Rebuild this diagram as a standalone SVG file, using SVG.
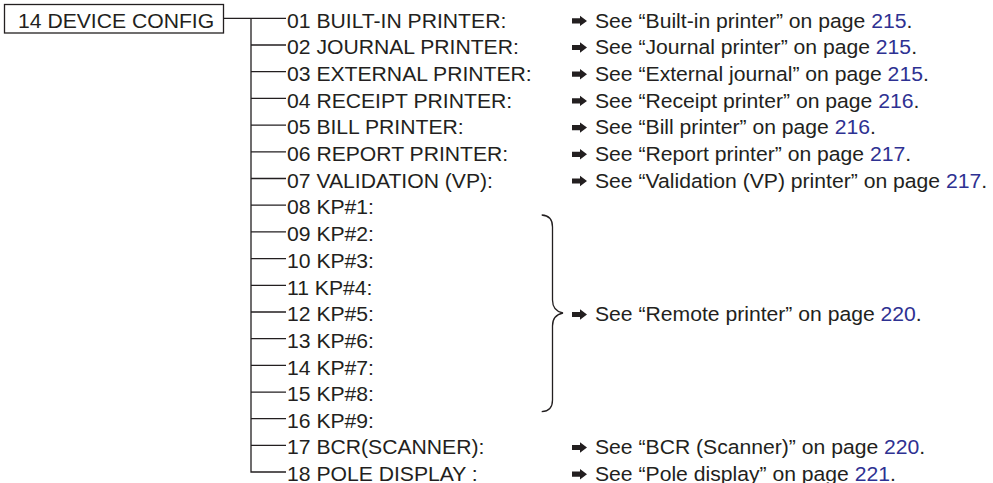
<svg xmlns="http://www.w3.org/2000/svg" width="993" height="483" viewBox="0 0 993 483">
<style>
text{font-family:"Liberation Sans",Arial,sans-serif;font-size:19.5px;fill:#231f20}
.pg{fill:#2e3192}
.ln{stroke:#231f20;stroke-width:1.3;fill:none}
.ar{fill:#231f20}
</style>
<defs>
<path id="arr" class="ar" d="M0,-2.6 H8 V-5.2 L15,0 L8,5.2 V2.6 H0 Z"/>
</defs>
<rect width="993" height="483" fill="#fff"/>
<g id="root">
<rect x="4.5" y="4.5" width="219" height="28.5" class="ln"/>
<text transform="translate(18,0) scale(1.085,1)" y="27.7">14 DEVICE CONFIG</text>
</g>
<g id="connectors">
<path class="ln" d="M223.5,18.3 H251 M251,18.3 V472 H286"/>
<path class="ln" d="M251,18.3 H286 M251,45 H286 M251,71.7 H286 M251,98.4 H286 M251,125.1 H286 M251,151.8 H286 M251,178.5 H286 M251,205.2 H286 M251,231.9 H286 M251,258.6 H286 M251,285.3 H286 M251,312 H286 M251,338.7 H286 M251,365.4 H286 M251,392.1 H286 M251,418.6 H286 M251,445.3 H286"/>
<path id="brace" class="ln" d="M541.7,215 Q552.5,215.5 552.5,227 V300 Q552.5,311 563,313 Q552.5,315 552.5,326 V400 Q552.5,411.2 541.7,411.7"/>
</g>
<g id="items" transform="translate(287,0) scale(1.085,1)">
<text y="27.7">01 BUILT-IN PRINTER:</text>
<text y="54.3">02 JOURNAL PRINTER:</text>
<text y="81">03 EXTERNAL PRINTER:</text>
<text y="107.7">04 RECEIPT PRINTER:</text>
<text y="134.4">05 BILL PRINTER:</text>
<text y="161.1">06 REPORT PRINTER:</text>
<text y="187.8">07 VALIDATION (VP):</text>
<text y="214.5">08 KP#1:</text>
<text y="241.2">09 KP#2:</text>
<text y="267.9">10 KP#3:</text>
<text y="294.6">11 KP#4:</text>
<text y="321.3">12 KP#5:</text>
<text y="348">13 KP#6:</text>
<text y="374.7">14 KP#7:</text>
<text y="401.4">15 KP#8:</text>
<text y="427.8">16 KP#9:</text>
<text y="454.3">17 BCR(SCANNER):</text>
<text y="481">18 POLE DISPLAY :</text>
</g>
<g id="arrows">
<use href="#arr" x="572" y="20.9"/>
<use href="#arr" x="572" y="47.5"/>
<use href="#arr" x="572" y="74.2"/>
<use href="#arr" x="572" y="100.9"/>
<use href="#arr" x="572" y="127.6"/>
<use href="#arr" x="572" y="154.3"/>
<use href="#arr" x="572" y="181"/>
<use href="#arr" x="572" y="314.5"/>
<use href="#arr" x="572" y="447.5"/>
<use href="#arr" x="572" y="474.2"/>
</g>
<g id="refs" transform="translate(595,0) scale(1.085,1)">
<text y="27.7">See “Built-in printer” on page <tspan class="pg">215</tspan>.</text>
<text y="54.3">See “Journal printer” on page <tspan class="pg">215</tspan>.</text>
<text y="81">See “External journal” on page <tspan class="pg">215</tspan>.</text>
<text y="107.7">See “Receipt printer” on page <tspan class="pg">216</tspan>.</text>
<text y="134.4">See “Bill printer” on page <tspan class="pg">216</tspan>.</text>
<text y="161.1">See “Report printer” on page <tspan class="pg">217</tspan>.</text>
<text y="187.8">See “Validation (VP) printer” on page <tspan class="pg">217</tspan>.</text>
<text y="321.3">See “Remote printer” on page <tspan class="pg">220</tspan>.</text>
<text y="454.3">See “BCR (Scanner)” on page <tspan class="pg">220</tspan>.</text>
<text y="481">See “Pole display” on page <tspan class="pg">221</tspan>.</text>
</g>
</svg>
